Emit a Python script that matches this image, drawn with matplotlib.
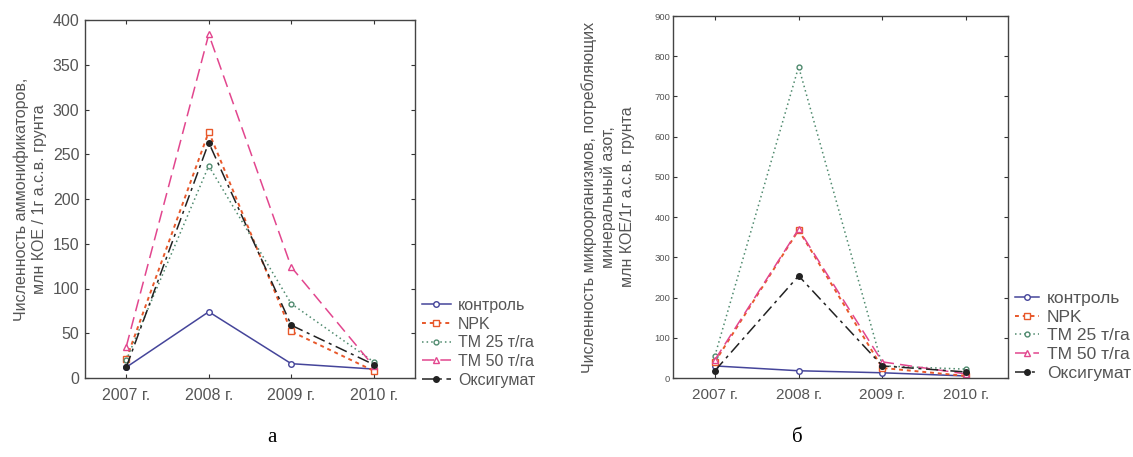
import matplotlib.pyplot as plt
import numpy as np

years = ['2007 г.', '2008 г.', '2009 г.', '2010 г.']
series = ['контроль', 'NPK', 'ТМ 25 т/га', 'ТМ 50 т/га', 'Оксигумат']

# panel a: ammonifiers
a_control = [12, 74, 16, 10]
a_npk = [21, 275, 52, 8]
a_tm25 = [20, 237, 83, 18]
a_tm50 = [35, 384, 124, 13]
a_oxy = [12, 263, 59, 15]

# panel b: mineral nitrogen consumers
b_control = [30, 18, 13, 5]
b_npk = [40, 368, 25, 5]
b_tm25 = [55, 774, 30, 22]
b_tm50 = [45, 370, 40, 10]
b_oxy = [18, 254, 30, 15]

styles = [
    dict(color='#45459a', ls='-', marker='o', mfc='white', ms=4, lw=1.1),
    dict(color='#e8582a', ls=(0, (2, 2)), marker='s', mfc='white', ms=5, lw=1.4),
    dict(color='#4f8a6e', ls=(0, (1, 2)), marker='o', mfc='white', ms=3.5, lw=1.1),
    dict(color='#e2468e', ls=(0, (8, 4)), marker='^', mfc='white', ms=4.5, lw=1.1),
    dict(color='#222222', ls=(0, (8, 3, 2, 3)), marker='o', mfc='#222222', ms=4, lw=1.1),
]

grey = '#555555'
plt.rcParams['font.family'] = ['Liberation Sans', 'DejaVu Sans']

fig = plt.figure(figsize=(11.33, 4.57), dpi=100)
W, H = 1133, 457


def px_axes(left, top, right, bottom):
    return fig.add_axes([left / W, 1 - bottom / H, (right - left) / W, (bottom - top) / H])


def style_axes(ax, ymax, ystep, ysize, xsize, ypad):
    ax.set_xlim(0.5, 4.5)
    ax.set_ylim(0, ymax)
    ax.set_xticks(np.arange(1, 5))
    ax.set_xticklabels(years, fontsize=xsize, color=grey)
    ax.set_yticks(np.arange(0, ymax + 1, ystep))
    ax.tick_params(axis='y', labelsize=ysize, labelcolor=grey, pad=ypad)
    ax.tick_params(axis='x', pad=7)
    ax.tick_params(direction='in', top=True, right=True, length=3, color='#333333')
    for s in ax.spines.values():
        s.set_color('#444444')
        s.set_linewidth(1.0)


x = np.arange(1, 5)

ax1 = px_axes(85, 20, 415, 378)
for name, vals, st in zip(series, [a_control, a_npk, a_tm25, a_tm50, a_oxy], styles):
    ax1.plot(x, vals, label=name, **st)
style_axes(ax1, 400, 50, 11.5, 11.5, 4)
ax1.set_ylabel('Численность аммонификаторов,\nмлн КОЕ / 1г а.с.в. грунта',
               fontsize=11.5, color=grey, labelpad=4, linespacing=1.3)
ax1.legend(loc='upper left', bbox_to_anchor=(422 / W, 1 - 298 / H),
           bbox_transform=fig.transFigure, borderaxespad=0, borderpad=0,
           frameon=False, fontsize=11.5, handlelength=1.8, handletextpad=0.45,
           labelspacing=0.23, labelcolor=grey)

ax2 = px_axes(673, 16, 1008, 378)
for name, vals, st in zip(series, [b_control, b_npk, b_tm25, b_tm50, b_oxy], styles):
    ax2.plot(x, vals, label=name, **st)
style_axes(ax2, 900, 100, 6.8, 11, 2)
ax2.set_ylabel('Численность микроорганизмов, потребляющих\nминеральный азот,\nмлн КОЕ/1г а.с.в. грунта',
               fontsize=11.5, color=grey, labelpad=14, linespacing=1.3)
ax2.legend(loc='upper left', bbox_to_anchor=(1015 / W, 1 - 291 / H),
           bbox_transform=fig.transFigure, borderaxespad=0, borderpad=0,
           frameon=False, fontsize=12.5, handlelength=1.4, handletextpad=0.45,
           labelspacing=0.2, labelcolor=grey)

fig.text(272 / W, 1 - 437 / H, 'а', fontsize=15, family='Liberation Serif',
         ha='center', va='center')
fig.text(797 / W, 1 - 437 / H, 'б', fontsize=15, family='Liberation Serif',
         ha='center', va='center')

fig.savefig('out.png', dpi=100)
